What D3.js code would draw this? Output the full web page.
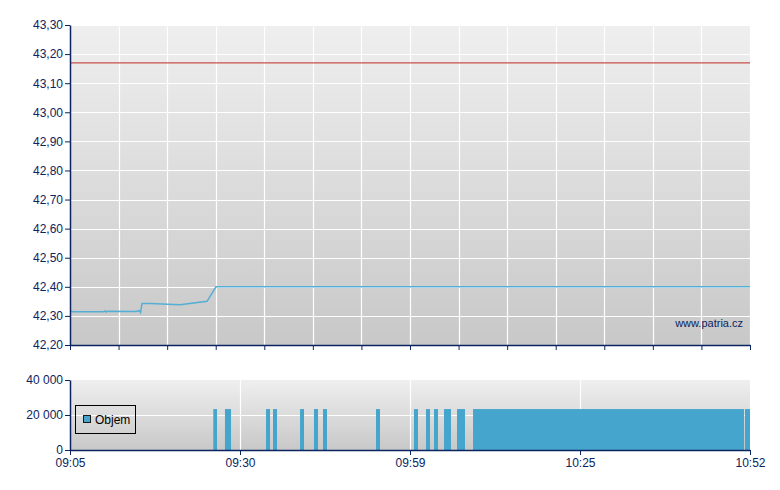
<!DOCTYPE html>
<html><head><meta charset="utf-8">
<script src="https://cdn.jsdelivr.net/npm/d3@7"></script>
<style>
html,body{margin:0;padding:0;background:#fff;}
svg{display:block;font-family:"Liberation Sans",Arial,sans-serif;}
</style></head>
<body>
<svg id="chart" width="780" height="490"></svg>
<script>
// ---- data (minutes after 09:05) ----
const timeLabels = ["09:05","09:30","09:59","10:25","10:52"];
const timeTickMinutes = [0, 25, 54, 80, 107];
const priceTicks = [42.2,42.3,42.4,42.5,42.6,42.7,42.8,42.9,43.0,43.1,43.2,43.3];
const volumeTicks = [0, 20000, 40000];
const prevClose = 43.17;
const priceMinutes = [0, 0.44, 4.85, 5.15, 5.29, 5.44, 9.7, 10.15, 10.37, 10.59, 11.76, 16.18, 20.15, 21.47, 107];
const priceValues  = [42.317, 42.314, 42.314, 42.317, 42.313, 42.316, 42.315, 42.318, 42.311, 42.343, 42.343, 42.338, 42.350, 42.40, 42.40];
const volStart = [21.07, 22.79, 29.44, 30.63, 35.24, 37.62, 39.16, 48.2, 54.61, 56.45, 57.67, 59.2, 61.19, 63.64, 106.2];
const volEnd   = [21.62, 23.68, 30.12, 31.31, 35.92, 38.31, 39.84, 48.88, 55.22, 57.06, 58.28, 60.27, 62.41, 106.05, 107];
const volValues = [23400, 23400, 23400, 23400, 23400, 23400, 23400, 23400, 23400, 23400, 23400, 23400, 23400, 23400, 23400];

// ---- layout ----
const L = 70, R = 750;
const top1 = 25, bot1 = 345;
const top2 = 380, bot2 = 450;
const axisColor = "#0b2460";
const textColor = "#0b2460";
const barColor = "#46a5cd";
const lineColor = "#55aed4";

const svg = d3.select("#chart");
const defs = svg.append("defs");
const grad = defs.append("linearGradient").attr("id","bg").attr("x1",0).attr("y1",0).attr("x2",0).attr("y2",1);
grad.append("stop").attr("offset","0%").attr("stop-color","#efefef");
grad.append("stop").attr("offset","100%").attr("stop-color","#c8c8c8");

const x = d3.scaleLinear().domain(timeTickMinutes).range(timeTickMinutes.map((d,i)=>L + i*(R-L)/4));
const y = d3.scaleLinear().domain([42.2, 43.3]).range([bot1, top1]);
const yv = d3.scaleLinear().domain([0, 40000]).range([bot2, top2]);

const fmtPrice = d => d3.format(".2f")(d).replace(".", ",");
const fmtVol = d => d3.format(",")(d).replace(/,/g, " ");

// top grid positions (14 equal intervals)
const gridTop = d3.range(15).map(i => x.invert(L + i*(R-L)/14));

// ---------- TOP PANEL ----------
svg.append("rect").attr("x",L).attr("y",top1).attr("width",R-L).attr("height",bot1-top1).attr("fill","url(#bg)");
const g1 = svg.append("g");
g1.selectAll("line.hg").data(priceTicks.slice(1)).join("line")
  .attr("x1",L).attr("x2",R).attr("y1",d=>Math.round(y(d))+0.5).attr("y2",d=>Math.round(y(d))+0.5)
  .attr("stroke","#ffffff").attr("stroke-width",1.2);
g1.selectAll("line.vg").data(gridTop.slice(1)).join("line")
  .attr("x1",d=>Math.round(x(d))+0.5).attr("x2",d=>Math.round(x(d))+0.5).attr("y1",top1).attr("y2",bot1)
  .attr("stroke","#ffffff").attr("stroke-width",1.2);

// prev close line
g1.append("line").attr("x1",L).attr("x2",R).attr("y1",y(prevClose)).attr("y2",y(prevClose))
  .attr("stroke","#c8504a").attr("stroke-width",1.3);

// price line
const pts = priceMinutes.map((m,i)=>[m, priceValues[i]]);
g1.append("path").datum(pts)
  .attr("d", d3.line().x(d=>x(d[0])).y(d=>y(d[1])))
  .attr("fill","none").attr("stroke",lineColor).attr("stroke-width",1.5);

// watermark
svg.append("text").attr("x",743).attr("y",327).attr("text-anchor","end")
  .attr("font-size","11px").attr("fill",textColor).text("www.patria.cz");

// y axis top
const ay1 = svg.append("g").attr("transform",`translate(${L},0)`)
  .call(d3.axisLeft(y).tickValues(priceTicks).tickFormat(fmtPrice).tickSize(5).tickSizeOuter(0));
// x axis top (ticks only)
const ax1 = svg.append("g").attr("transform",`translate(0,${bot1})`)
  .call(d3.axisBottom(x).tickValues(gridTop).tickFormat("").tickSize(5).tickSizeOuter(0));

// ---------- BOTTOM PANEL ----------
svg.append("rect").attr("x",L).attr("y",top2).attr("width",R-L).attr("height",bot2-top2).attr("fill","url(#bg)");
const g2 = svg.append("g");
g2.append("line").attr("x1",L).attr("x2",R).attr("y1",Math.round(yv(20000))+0.5).attr("y2",Math.round(yv(20000))+0.5)
  .attr("stroke","#ffffff").attr("stroke-width",1.2);
g2.selectAll("line.vg").data(timeTickMinutes.slice(1,4)).join("line")
  .attr("x1",d=>Math.round(x(d))+0.5).attr("x2",d=>Math.round(x(d))+0.5).attr("y1",top2).attr("y2",bot2)
  .attr("stroke","#ffffff").attr("stroke-width",1.2);

const bars = volStart.map((s,i)=>({s, e: volEnd[i], v: volValues[i]}));
g2.selectAll("rect.bar").data(bars).join("rect")
  .attr("x",d=>x(d.s)).attr("width",d=>x(d.e)-x(d.s))
  .attr("y",d=>yv(d.v)).attr("height",d=>bot2-yv(d.v))
  .attr("fill",barColor);

// legend
const lg = svg.append("g");
lg.append("rect").attr("x",75.5).attr("y",405.5).attr("width",60).attr("height",28)
  .attr("fill","none").attr("stroke","#000").attr("stroke-width",1);
lg.append("rect").attr("x",83.5).attr("y",415.5).attr("width",7).attr("height",7)
  .attr("fill",barColor).attr("stroke","#1a1a1a").attr("stroke-width",1);
lg.append("text").attr("x",95).attr("y",424).attr("font-size","12px").attr("fill","#000").text("Objem");

const ay2 = svg.append("g").attr("transform",`translate(${L},0)`)
  .call(d3.axisLeft(yv).tickValues(volumeTicks).tickFormat(fmtVol).tickSize(5).tickSizeOuter(0));
const ax2 = svg.append("g").attr("transform",`translate(0,${bot2})`)
  .call(d3.axisBottom(x).tickValues(timeTickMinutes).tickFormat((d,i)=>timeLabels[i]).tickSize(5).tickSizeOuter(0));

// style axes
[ay1, ax1, ay2, ax2].forEach(a=>{
  a.select(".domain").attr("stroke",axisColor).attr("stroke-width",1.5);
  a.selectAll(".tick line").attr("stroke",axisColor).attr("stroke-width",1);
  a.selectAll(".tick text").attr("fill",textColor).attr("font-size","12px")
    .attr("font-family","'Liberation Sans',Arial,sans-serif");
});
ay1.selectAll(".tick text").attr("x",-7);
ay2.selectAll(".tick text").attr("x",-7);
ax2.selectAll(".tick text").attr("y",8);
</script>
</body></html>
